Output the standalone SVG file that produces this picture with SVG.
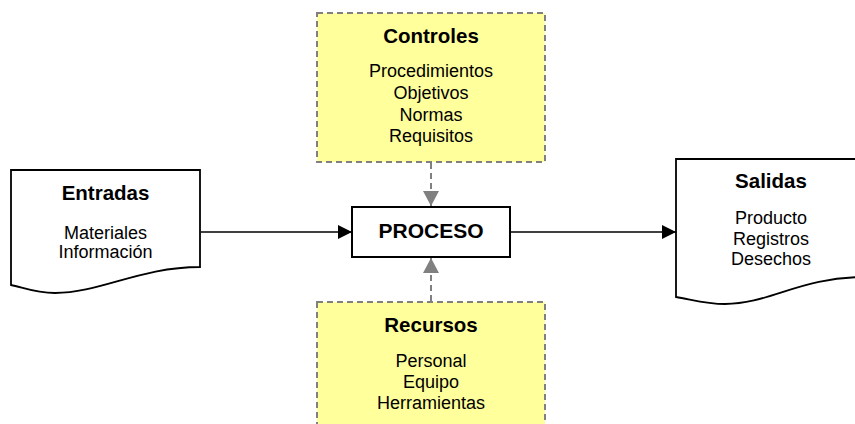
<svg xmlns="http://www.w3.org/2000/svg" width="855" height="424" viewBox="0 0 855 424">
<style>
.doc{fill:#fff;stroke:#000;stroke-width:1.8}
.ctl{fill:#ffff9c;stroke:#808080;stroke-width:2;stroke-dasharray:6 4}
.proc{fill:#fff;stroke:#000;stroke-width:2}
text{font-family:"Liberation Sans",Arial,sans-serif;fill:#000;text-anchor:middle}
.t{font-weight:bold;font-size:20.5px}
.b{font-size:18px}
.solid{stroke:#000;stroke-width:1.6;fill:none}
.dash{stroke:#808080;stroke-width:2;stroke-dasharray:6 4;fill:none}
</style>
<defs>
<marker id="ab" viewBox="0 0 14 14" refX="14" refY="7" markerWidth="14" markerHeight="14" markerUnits="userSpaceOnUse" orient="auto"><path d="M0,0 L14,7 L0,14 Z" fill="#000"/></marker>
<marker id="ag" viewBox="0 0 15 16" refX="15" refY="8" markerWidth="15" markerHeight="16" markerUnits="userSpaceOnUse" orient="auto"><path d="M0,0 L15,8 L0,16 Z" fill="#808080"/></marker>
</defs>
<g id="connectors">
<line class="solid" x1="201" y1="232" x2="352" y2="232" marker-end="url(#ab)"/>
<line class="solid" x1="511" y1="232" x2="676" y2="232" marker-end="url(#ab)"/>
<line class="dash" x1="431" y1="163" x2="431" y2="206" marker-end="url(#ag)"/>
<line class="dash" x1="431" y1="301" x2="431" y2="258" marker-end="url(#ag)"/>
</g>
<g id="entradas">
<path class="doc" d="M11,170 H200 V267 C140,267 100,293 55,293 C35,293 22,287 11,285 Z"/>
<text class="t" x="105.5" y="200">Entradas</text>
<text class="b" x="105.5" y="239">Materiales</text>
<text class="b" x="105.5" y="258">Información</text>
</g>
<g id="salidas">
<path class="doc" d="M676,159 H866 V277 C800,277 770,304 725,304 C705,304 690,299 676,297 Z"/>
<text class="t" x="771" y="188">Salidas</text>
<text class="b" x="771" y="224">Producto</text>
<text class="b" x="771" y="245">Registros</text>
<text class="b" x="771" y="265">Desechos</text>
</g>
<g id="controles">
<rect class="ctl" x="317" y="13" width="228" height="149"/>
<text class="t" x="431" y="43">Controles</text>
<text class="b" x="431" y="77">Procedimientos</text>
<text class="b" x="431" y="99">Objetivos</text>
<text class="b" x="431" y="121">Normas</text>
<text class="b" x="431" y="142">Requisitos</text>
</g>
<g id="proceso">
<rect class="proc" x="352" y="207" width="158" height="50"/>
<text class="t" x="431" y="238" style="font-size:21px">PROCESO</text>
</g>
<g id="recursos">
<rect class="ctl" x="317" y="302" width="228" height="135"/>
<text class="t" x="431" y="332">Recursos</text>
<text class="b" x="431" y="367">Personal</text>
<text class="b" x="431" y="388">Equipo</text>
<text class="b" x="431" y="409">Herramientas</text>
</g>
</svg>
